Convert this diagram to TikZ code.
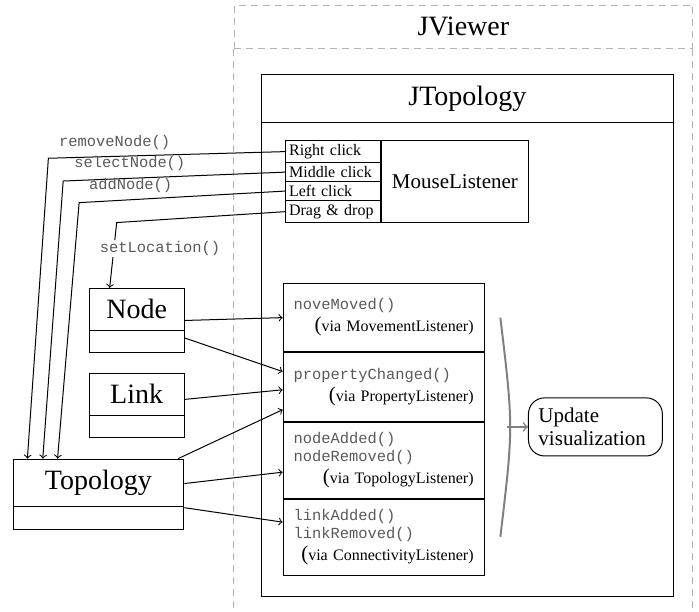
\documentclass[tikz,border=0pt]{standalone}
\usepackage{fontspec}
\setmainfont{Liberation Serif}
\setmonofont{Liberation Mono}
\usepackage{tikz}
\usetikzlibrary{shapes.multipart, arrows, positioning}

\newcommand{\bigsize}{\fontsize{14pt}{16pt}\selectfont}
\newcommand{\midsize}{\fontsize{10.5pt}{11.4pt}\selectfont}
\newcommand{\smallsize}{\fontsize{8pt}{9pt}\selectfont}
\newcommand{\codesize}{\fontsize{7.7pt}{9pt}\selectfont}
\newcommand{\method}[1]{{\color{black!65}\codesize\ttfamily #1}}
\newcommand{\bigparen}{{\fontsize{10.5pt}{9pt}\selectfont(}}
\newcommand{\nobody}{\rule{1pt}{0pt}}

\tikzstyle{dashline} = [draw=black!30, dash pattern=on 3.5pt off 2.5pt]
\tikzstyle{viewer} = [rectangle, dashline, minimum width=8.05cm, minimum height=0.76cm, font=\bigsize]
\tikzstyle{jframe} = [rectangle, draw, outer sep=0pt, minimum width=7.24cm]
\tikzstyle{clicks} = [rectangle split, rectangle split parts=4, draw, text width=44pt, align=left, inner xsep=1.7pt, inner ysep=1.65pt, font=\smallsize]
\tikzstyle{mouse} = [rectangle, draw, minimum width=2.58cm, minimum height=41.2pt, font=\midsize]
\tikzstyle{listener} = [rectangle, draw, minimum width=3.53cm, text width=89.9pt, inner xsep=5.3pt, align=left, font=\smallsize]
\tikzstyle{classbox} = [rectangle split, rectangle split parts=2, draw, inner ysep=5.3pt, font=\bigsize]
\tikzstyle{update} = [rectangle, rounded corners=8pt, draw, text width=2cm, inner xsep=5pt, minimum height=1.02cm, align=left, font=\midsize]
\tikzstyle{callname} = [text=black!65, font=\codesize\ttfamily]
\tikzstyle{arrow} = [->, >=to]
\tikzstyle{grayarrow} = [->, >=to, draw=black!50, line width=0.8pt]
\tikzstyle{brace} = [draw=black!50, line width=1pt]

\begin{document}
\begin{tikzpicture}[line width=0.5pt]
\useasboundingbox (0,0) rectangle (12.28,-10.74);
\coordinate (bottom) at (0,-10.74);

% JViewer / JTopology frames
\node (jviewer) [viewer] at (8.14,-0.47) {JViewer};
\draw [dashline] (jviewer.south west) -- (jviewer.south west |- bottom);
\draw [dashline] (jviewer.south east) -- (jviewer.south east |- bottom);
\node (jtitle) [jframe, minimum height=0.83cm, font=\bigsize] at (8.21,-1.73) {JTopology};
\node (jbody) [jframe, minimum height=8.33cm, below=0pt of jtitle] {};

\node (clicks) [clicks, anchor=north west] at (5.01,-2.46) {Right click\nodepart{two}Middle click\nodepart{three}Left click\nodepart{four}Drag \& drop};
\node (mouse) [mouse, right=0pt of clicks] {MouseListener};

% listeners
\node (lmove) [listener, minimum height=1.2cm] at (6.74,-5.58) {\method{noveMoved()}\\[2pt]\hspace*{\fill}\bigparen via MovementListener)};
\node (lprop) [listener, minimum height=1.2cm, below=0pt of lmove] {\method{propertyChanged()}\\[2pt]\hspace*{\fill}\bigparen via PropertyListener)};
\node (ltopo) [listener, minimum height=1.34cm, below=0pt of lprop] {\method{nodeAdded()}\\\method{nodeRemoved()}\\[2pt]\hspace*{\fill}\bigparen via TopologyListener)};
\node (lconn) [listener, minimum height=1.34cm, below=0pt of ltopo] {\method{linkAdded()}\\\method{linkRemoved()}\\[2pt]\hspace*{\fill}\bigparen via ConnectivityListener)};

\node (update) [update] at (10.46,-7.50) {Update\\visualization};

% classes
\node (nodecls) [classbox, minimum width=1.67cm] at (2.40,-5.63) {Node\nodepart{two}\nobody};
\node (linkcls) [classbox, minimum width=1.67cm] at (2.40,-7.12) {Link\nodepart{two}\nobody};
\node (topocls) [classbox, minimum width=3.0cm] at (1.73,-8.68) {Topology\nodepart{two}\nobody};

% brace
\coordinate (bracetop) at (8.79,-5.58);
\coordinate (bracebot) at (8.79,-9.43);
\coordinate (bracemid) at (8.905,-7.50);
\draw [brace] (bracetop) .. controls (9.02,-7.50) .. (bracebot);
\draw [grayarrow] (bracemid) -- (update);

% mouse events
\coordinate (rmbend) at (0.85,-2.78);
\coordinate (selbend) at (1.11,-3.18);
\coordinate (addbend) at (1.39,-3.56);
\coordinate (dragbend) at (2.05,-3.91);
\draw [arrow] (clicks.text west) -- node[callname, above, pos=0.72] {removeNode()} (rmbend) -- ([xshift=0.26cm]topocls.north west);
\draw [arrow] (clicks.two west) -- node[callname, above, pos=0.70] {selectNode()} (selbend) -- ([xshift=0.53cm]topocls.north west);
\draw [arrow] (clicks.three west) -- node[callname, above, pos=0.75] {addNode()} (addbend) -- ([xshift=0.79cm]topocls.north west);
\draw [arrow] (clicks.four west) -- (dragbend) -- node[callname, fill=white, inner ysep=0.8pt, pos=0.4, xshift=0.81cm] {setLocation()} ([xshift=0.37cm]nodecls.north west);

% events to listeners
\draw [arrow] (nodecls.east) -- (lmove.west);
\draw [arrow] (nodecls.-20) -- ([yshift=0.27cm]lprop.west);
\draw [arrow] (linkcls.7) -- ([yshift=-0.05cm]lprop.west);
\draw [arrow] (topocls.24) -- ([yshift=-0.4cm]lprop.west);
\draw [arrow] (topocls.7) -- ([yshift=-0.21cm]ltopo.west);
\draw [arrow] (topocls.-9) -- ([yshift=0.27cm]lconn.west);

\end{tikzpicture}
\end{document}
